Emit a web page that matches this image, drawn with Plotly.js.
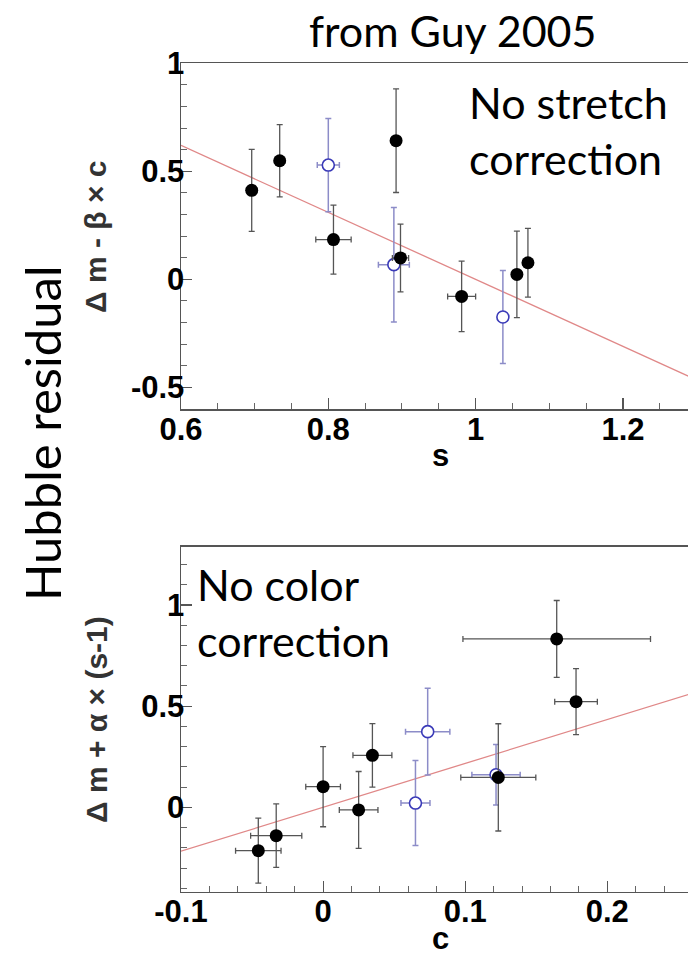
<!DOCTYPE html>
<html>
<head>
<meta charset="utf-8">
<script src="https://cdn.plot.ly/plotly-3.0.1.min.js"></script>
<style>
html, body { margin:0; padding:0; overflow:hidden; background:#fff; }
#chart { width:750px; height:955px; }
</style>
</head>
<body>
<div id="chart"></div>
<script>
// ---- Top panel: stretch s vs Δm - β×c ----
var sBlack     = [0.696, 0.734, 0.807, 0.892, 0.898, 0.981, 1.056, 1.071];
var resBlackS  = [0.412, 0.549, 0.184, 0.642, 0.099, -0.079, 0.023, 0.077];
var resErrBlackS = [0.19, 0.167, 0.16, 0.24, 0.157, 0.163, 0.2, 0.159];
var sErrBlack  = [0.007, 0.007, 0.024, 0.004, 0.011, 0.019, 0.005, 0.007];

var sBlue      = [0.800, 0.889, 1.037];
var resBlueS   = [0.529, 0.068, -0.174];
var resErrBlueS = [0.216, 0.265, 0.215];
var sErrBlue   = [0.015, 0.021, 0.004];

var fitS       = [0.6, 1.3];
var fitResS    = [0.62, -0.465];

// ---- Bottom panel: colour c vs Δm + α×(s-1) ----
var cBlack     = [-0.0456, -0.033, 0.0, 0.025, 0.0347, 0.1233, 0.1644, 0.178];
var resBlackC  = [-0.214, -0.140, 0.102, -0.013, 0.257, 0.148, 0.832, 0.522];
var resErrBlackC = [0.161, 0.157, 0.198, 0.19, 0.157, 0.265, 0.19, 0.163];
var cErrBlack  = [0.016, 0.018, 0.0122, 0.0136, 0.0137, 0.0264, 0.066, 0.015];

var cBlue      = [0.065, 0.0736, 0.1217];
var resBlueC   = [0.021, 0.374, 0.161];
var resErrBlueC = [0.21, 0.214, 0.15];
var cErrBlue   = [0.0102, 0.0156, 0.017];

var fitC       = [-0.1, 0.3];
var fitResC    = [-0.217, 0.651];

var xTicksTop = [0.6, 0.8, 1, 1.2];
var xTickTextTop = ['0.6', '0.8', '1', '1.2'];
var yTicksTop = [-0.5, 0, 0.5, 1];
var yTickTextTop = ['-0.5', '0', '0.5', '1'];
var xTicksBot = [-0.1, 0, 0.1, 0.2];
var xTickTextBot = ['-0.1', '0', '0.1', '0.2'];
var yTicksBot = [0, 0.5, 1];
var yTickTextBot = ['0', '0.5', '1'];

// ---- styling / geometry ----
var W = 750, H = 955;
function px(x) { return x / W; }
function py(y) { return 1 - y / H; }

var BLACK_ERR = '#555555';
var BLUE = '#3a3ab8';
var BLUE_ERR = '#8c8cc8';
var RED = '#e08888';

function blackTrace(x, y, ey, ex, xa, ya) {
  return {
    x: x, y: y, xaxis: xa, yaxis: ya, type: 'scatter', mode: 'markers',
    marker: { color: '#000', size: 13 },
    error_y: { type: 'data', array: ey, color: BLACK_ERR, thickness: 1.3, width: 3 },
    error_x: { type: 'data', array: ex, color: BLACK_ERR, thickness: 1.3, width: 3 },
    showlegend: false, hoverinfo: 'skip'
  };
}
function blueTrace(x, y, ey, ex, xa, ya) {
  return {
    x: x, y: y, xaxis: xa, yaxis: ya, type: 'scatter', mode: 'markers',
    marker: { color: '#fff', size: 12, line: { color: BLUE, width: 1.6 } },
    error_y: { type: 'data', array: ey, color: BLUE_ERR, thickness: 1.5, width: 3 },
    error_x: { type: 'data', array: ex, color: BLUE_ERR, thickness: 1.5, width: 3 },
    showlegend: false, hoverinfo: 'skip'
  };
}
function fitTrace(x, y, xa, ya) {
  return { x: x, y: y, xaxis: xa, yaxis: ya, type: 'scatter', mode: 'lines',
           line: { color: RED, width: 1.3 }, showlegend: false, hoverinfo: 'skip' };
}

var data = [
  fitTrace(fitS, fitResS, 'x', 'y'),
  blueTrace(sBlue, resBlueS, resErrBlueS, sErrBlue, 'x', 'y'),
  blackTrace(sBlack, resBlackS, resErrBlackS, sErrBlack, 'x', 'y'),
  fitTrace(fitC, fitResC, 'x2', 'y2'),
  blueTrace(cBlue, resBlueC, resErrBlueC, cErrBlue, 'x2', 'y2'),
  blackTrace(cBlack, resBlackC, resErrBlackC, cErrBlack, 'x2', 'y2')
];

var tickFont = { family: 'Liberation Sans, Arial, sans-serif', size: 31, color: '#000', weight: 'bold' };
function axisBase() {
  return {
    showline: true, linecolor: '#555', linewidth: 1.5, mirror: true,
    ticks: 'inside', ticklen: 11, tickwidth: 1.2, tickcolor: '#555',
    showgrid: false, zeroline: false, tickfont: tickFont, tickmode: 'array'
  };
}

var xa = Object.assign(axisBase(), { domain: [px(181), px(696.6)], range: [0.6, 1.3], anchor: 'y',
  tickvals: xTicksTop, ticktext: xTickTextTop, ticklabelstandoff: -8,
  minor: { dtick: 0.05, ticklen: 6, tickcolor: '#666', tickwidth: 1, ticks: 'inside' } });
var ya = Object.assign(axisBase(), { domain: [py(409), py(63.3)], range: [-0.6, 1.0], anchor: 'x',
  tickvals: yTicksTop, ticktext: yTickTextTop, ticklabelstandoff: -11,
  minor: { dtick: 0.1, ticklen: 6, tickcolor: '#666', tickwidth: 1, ticks: 'inside' } });
var xa2 = Object.assign(axisBase(), { domain: [px(181), px(749.4)], range: [-0.1, 0.3], anchor: 'y2',
  tickvals: xTicksBot, ticktext: xTickTextBot, ticklabelstandoff: -8,
  minor: { dtick: 0.02, ticklen: 6, tickcolor: '#666', tickwidth: 1, ticks: 'inside' } });
var ya2 = Object.assign(axisBase(), { domain: [py(891.5), py(546.7)], range: [-0.416, 1.288], anchor: 'x2',
  tickvals: yTicksBot, ticktext: yTickTextBot, ticklabelstandoff: -11,
  minor: { dtick: 0.1, ticklen: 6, tickcolor: '#666', tickwidth: 1, ticks: 'inside' } });

var bigFont = { family: 'Lato, Open Sans, sans-serif', size: 43, color: '#000' };
var axTitleFont = { family: 'Liberation Sans, Arial, sans-serif', size: 31, color: '#000', weight: 'bold' };
var yTitleFont = { family: 'Liberation Sans, Arial, sans-serif', size: 30, color: '#333', weight: 'bold' };

var annotations = [
  { text: 'from Guy 2005', x: px(307), y: py(30), xanchor: 'left', yanchor: 'middle', font: bigFont },
  { text: 'No stretch<br>correction', x: px(466.7), y: py(130), xanchor: 'left', yanchor: 'middle', align: 'left', font: bigFont },
  { text: 'No color<br>correction', x: px(195), y: py(612), xanchor: 'left', yanchor: 'middle', align: 'left', font: bigFont },
  { text: 'Hubble residual', x: px(42), y: py(433), textangle: -90, xanchor: 'center', yanchor: 'middle',
    font: { family: 'Lato, Open Sans, sans-serif', size: 49, color: '#000' } },
  { text: 'Δ m - β × c', x: px(95), y: py(237), textangle: -90, xanchor: 'center', yanchor: 'middle', font: yTitleFont },
  { text: 'Δ m + α × (s-1)', x: px(96), y: py(720), textangle: -90, xanchor: 'center', yanchor: 'middle', font: yTitleFont },
  { text: 's', x: px(440), y: py(455), xanchor: 'center', yanchor: 'middle', font: axTitleFont },
  { text: 'c', x: px(440), y: py(938), xanchor: 'center', yanchor: 'middle', font: axTitleFont }
];
annotations.forEach(function (a) { a.xref = 'paper'; a.yref = 'paper'; a.showarrow = false; });

var layout = {
  width: W, height: H,
  margin: { l: 0, r: 0, t: 0, b: 0, pad: 0 },
  paper_bgcolor: '#fff', plot_bgcolor: '#fff',
  xaxis: xa, yaxis: ya, xaxis2: xa2, yaxis2: ya2,
  annotations: annotations,
  showlegend: false
};

Plotly.newPlot('chart', data, layout, { displayModeBar: false, staticPlot: true });
</script>
</body>
</html>
